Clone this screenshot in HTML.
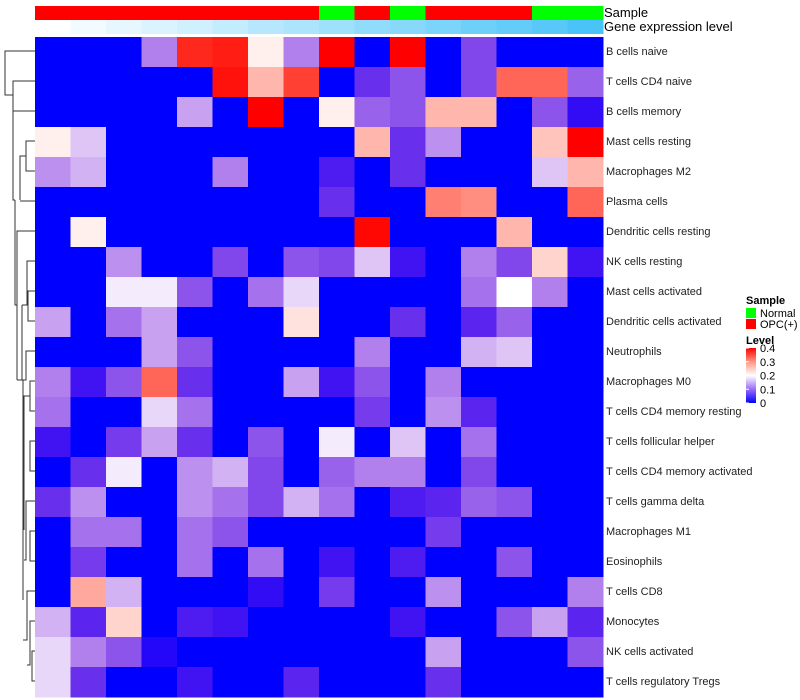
<!DOCTYPE html>
<html><head><meta charset="utf-8"><style>
body{margin:0;background:#fff;font-family:"Liberation Sans",sans-serif;}
svg{display:block}
</style></head><body>
<svg id="chart" width="800" height="700" xmlns="http://www.w3.org/2000/svg">
<g id="dendro" stroke="#333" stroke-width="1" fill="none">
<path d="M35,51 H5 V95 H13"/>
<path d="M35,81 H13 V111 H35"/>
<path d="M13,95 V200 H15"/>
<path d="M35,141 H26 V171 H35"/>
<path d="M26,156 H20 V200"/>
<path d="M35,201 H20"/>
<path d="M15,200 V305 H17"/>
<path d="M35,231 H17 V380"/>
<path d="M35,261 H27 V305 H22"/>
<path d="M35,291 H28 V321 H35"/>
<path d="M35,351 H26 V380 H22 V305"/>
<path d="M17,380 H23 V600"/>
<path d="M35,381 H30 V411 H35"/>
<path d="M35,441 H30 V471 H35"/>
<path d="M30,396 H24 V530"/>
<path d="M35,501 H26 V560 H24"/>
<path d="M35,531 H30 V561 H35"/>
<path d="M35,591 H27 V640 H23"/>
<path d="M35,621 H30 V665 H27"/>
<path d="M35,651 H32 V681 H35"/>
</g>
<g id="cells"></g>
<g id="annot"></g>
<text x="604" y="17" font-size="13">Sample</text>
<text x="604" y="31" font-size="13">Gene expression level</text>
<g id="rowlabels"></g>
<g font-size="11">
<text x="746" y="304" font-weight="bold">Sample</text>
<rect x="746" y="308" width="10" height="10" fill="#00ff00"/>
<text x="760" y="317">Normal</text>
<rect x="746" y="319" width="10" height="10" fill="#ff0000"/>
<text x="760" y="328">OPC(+)</text>
<text x="746" y="344" font-weight="bold">Level</text>
<defs><linearGradient id="lg" x1="0" y1="1" x2="0" y2="0"><stop offset="0" stop-color="#0000ff"/><stop offset="0.25" stop-color="#9a6cf8"/><stop offset="0.5" stop-color="#ffffff"/><stop offset="0.75" stop-color="#ff9680"/><stop offset="1" stop-color="#ff0000"/></linearGradient></defs>
<rect x="746" y="348" width="10" height="55" fill="url(#lg)"/>
<g id="cbticks"></g>
</g>
</svg>
<script>
const rows=["B cells naive","T cells CD4 naive","B cells memory","Mast cells resting","Macrophages M2","Plasma cells","Dendritic cells resting","NK cells resting","Mast cells activated","Dendritic cells activated","Neutrophils","Macrophages M0","T cells CD4 memory resting","T cells follicular helper","T cells CD4 memory activated","T cells gamma delta","Macrophages M1","Eosinophils","T cells CD8","Monocytes","NK cells activated","T cells regulatory  Tregs"];
const samples=["OPC","OPC","OPC","OPC","OPC","OPC","OPC","OPC","Normal","OPC","Normal","OPC","OPC","OPC","Normal","Normal"];
const geneLevel=[0,0.07,0.13,0.2,0.26,0.33,0.4,0.46,0.53,0.6,0.66,0.73,0.8,0.86,0.93,1];
const levelTicks=[0,0.1,0.2,0.3,0.4];
const m0=[0,0,0,0.13,0.36,0.37,0.21,0.13,0.4,0,0.4,0,0.09,0,0,0];
const m1=[0,0,0,0,0,0.38,0.25,0.34,0,0.07,0.1,0,0.09,0.31,0.31,0.11];
const m2=[0,0,0,0,0.15,0,0.4,0,0.21,0.11,0.1,0.25,0.25,0,0.1,0.03];
const m3=[0.21,0.17,0,0,0,0,0,0,0,0.25,0.07,0.14,0,0,0.24,0.4];
const m4=[0.14,0.16,0,0,0,0.13,0,0,0.05,0,0.07,0,0,0,0.17,0.25];
const m5=[0,0,0,0,0,0,0,0,0.07,0,0,0.29,0.28,0,0,0.31];
const m6=[0,0.21,0,0,0,0,0,0,0,0.39,0,0,0,0.25,0,0];
const m7=[0,0,0.14,0,0,0.09,0,0.1,0.09,0.17,0.04,0,0.13,0.09,0.23,0.04];
const m8=[0,0,0.19,0.19,0.1,0,0.12,0.18,0,0,0,0,0.12,0.2,0.13,0];
const m9=[0.15,0,0.12,0.15,0,0,0,0.22,0,0,0.07,0,0.06,0.11,0,0];
const m10=[0,0,0,0.15,0.1,0,0,0,0,0.13,0,0,0.16,0.17,0,0];
const m11=[0.13,0.04,0.1,0.31,0.07,0,0,0.15,0.04,0.1,0,0.13,0,0,0,0];
const m12=[0.12,0,0,0.18,0.12,0,0,0,0,0.08,0,0.14,0.06,0,0,0];
const m13=[0.04,0,0.08,0.15,0.07,0,0.1,0,0.19,0,0.17,0,0.12,0,0,0];
const m14=[0,0.07,0.19,0,0.14,0.16,0.09,0,0.11,0.13,0.13,0,0.09,0,0,0];
const m15=[0.07,0.14,0,0,0.14,0.12,0.09,0.16,0.12,0,0.05,0.06,0.11,0.1,0,0];
const m16=[0,0.12,0.12,0,0.12,0.1,0,0,0,0,0,0.08,0,0,0,0];
const m17=[0,0.08,0,0,0.12,0,0.12,0,0.04,0,0.05,0,0,0.1,0,0];
const m18=[0,0.26,0.16,0,0,0,0.03,0,0.08,0,0,0.14,0,0,0,0.13];
const m19=[0.16,0.06,0.23,0,0.05,0.04,0,0,0,0,0.04,0,0,0.1,0.15,0.06];
const m20=[0.18,0.13,0.1,0.02,0,0,0,0,0,0,0,0.15,0,0,0,0.1];
const m21=[0.18,0.07,0,0,0.04,0,0,0.06,0,0,0,0.07,0,0,0,0];
const matrix=[m0,m1,m2,m3,m4,m5,m6,m7,m8,m9,m10,m11,m12,m13,m14,m15,m16,m17,m18,m19,m20,m21];

const NS="http://www.w3.org/2000/svg";
const X0=35,X1=603,Y0=37,RH=30;
const CW=(X1-X0)/samples.length;
const xPos=i=>X0+i*CW;
const yPos=j=>Y0+j*RH;
function color(v){v=Math.max(0,Math.min(0.4,v));let r,g,b;
 if(v<=0.2){const t=v/0.2;r=Math.round(255*Math.pow(t,0.85));g=Math.round(255*Math.pow(t,1.6));b=Math.round(255-20*Math.sin(Math.PI*t));}
 else{const t=(v-0.2)/0.2;r=255;g=Math.round(255*Math.pow(1-t,1.15));b=Math.round(255*Math.pow(1-t,1.35));}
 return `rgb(${r},${g},${b})`;}
function mk(tag,attrs){const e=document.createElementNS(NS,tag);for(const k in attrs)e.setAttribute(k,attrs[k]);return e;}
const cells=document.getElementById('cells');
matrix.forEach((row,j)=>row.forEach((v,i)=>{
 const r=mk('rect',{x:xPos(i),y:yPos(j),width:CW+0.5,height:RH+0.5,fill:color(v)});
 
 
 cells.appendChild(r);}));
const annot=document.getElementById('annot');
samples.forEach((s,i)=>{
 const r=mk('rect',{x:xPos(i),y:6,width:CW+0.5,height:14,fill:s==="Normal"?"#00ff00":"#ff0000"});
 
 
 annot.appendChild(r);});
geneLevel.forEach((g,i)=>{
 const c0=[255,255,255],c1=[74,196,248];
 const c=c0.map((a,k)=>Math.round(a+(c1[k]-a)*g));
 const r=mk('rect',{x:xPos(i),y:20,width:CW+0.5,height:14,fill:`rgb(${c.join(',')})`});
 
 
 annot.appendChild(r);});
const rl=document.getElementById('rowlabels');
rows.forEach((n,j)=>{
 const t=mk('text',{x:X1+3,y:yPos(j)+RH/2+3,'font-size':11,fill:'#222'});
 t.textContent=n;
 
 
 rl.appendChild(t);});
const cb=document.getElementById('cbticks');
levelTicks.forEach(v=>{
 const y=403-(v/0.4)*55;
 const l=mk('line',{x1:746,x2:749,y1:y,y2:y,stroke:'#fff'});
 
 
 cb.appendChild(l);
 const t=mk('text',{x:760,y:y+4,'font-size':11});
 t.textContent=String(v);
 
 
 cb.appendChild(t);});
</script>
</body></html>
